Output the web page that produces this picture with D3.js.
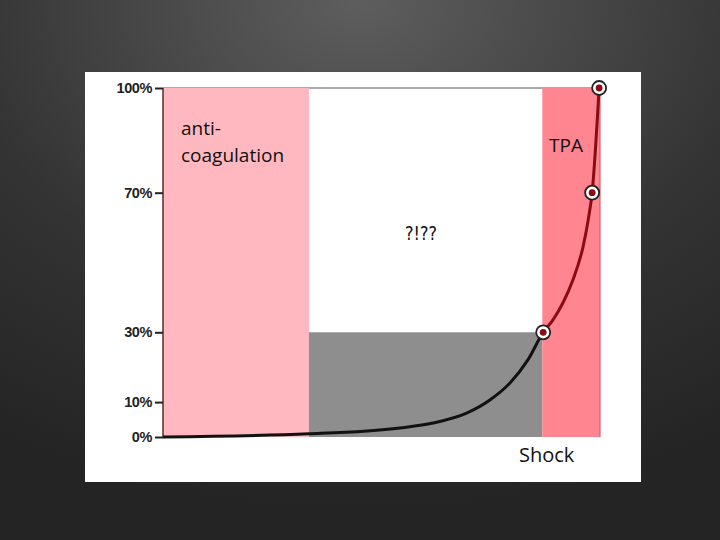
<!DOCTYPE html>
<html><head><meta charset="utf-8">
<script src="https://cdn.jsdelivr.net/npm/d3@7"></script>
<style>body{margin:0;background:#2b2b2b}svg{display:block}</style>
</head><body>
<script>
// ---- data ----
const yTicks = [0, 10, 30, 70, 100];
const tickLabels = ["0%", "10%", "30%", "70%", "100%"];
const zones = [
  {name: "anti-coagulation", x0: 0, x1: 33.4, y0: 0, y1: 100, fill: "#ffb8c0"},
  {name: "unknown", x0: 33.4, x1: 86.8, y0: 0, y1: 30, fill: "#8e8e8e"},
  {name: "TPA", x0: 86.8, x1: 100, y0: 0, y1: 100, fill: "#ff8590"}
];
const curveX = [0, 33.4, 54.2, 61.8, 69.6, 74.8, 79.4, 83.5, 87, 89.2, 91.5, 93.8, 96.1, 97.3, 98.2, 99.8];
const curveY = [0, 0.9, 2.6, 4.0, 6.9, 10.6, 15.5, 22.1, 30, 33.5, 38.4, 45, 54.4, 62.2, 70, 100];
const shockX = 87;
const markerX = [87, 98.2, 99.8];
const markerY = [30, 70, 100];

const W = 720, H = 540;
const svg = d3.select("body").append("svg").attr("width", W).attr("height", H);
const defs = svg.append("defs");
const rg = defs.append("radialGradient").attr("id", "bg").attr("cx", "50%").attr("cy", "0%").attr("r", "95%");
rg.append("stop").attr("offset", "0%").attr("stop-color", "#5e5e5e");
rg.append("stop").attr("offset", "60%").attr("stop-color", "#333");
rg.append("stop").attr("offset", "100%").attr("stop-color", "#242424");
svg.append("rect").attr("width", W).attr("height", H).attr("fill", "url(#bg)");

svg.append("rect").attr("x", 85).attr("y", 72).attr("width", 556).attr("height", 410).attr("fill", "#fff");

const x = d3.scaleLinear().domain([0, 100]).range([163, 600]);
const y = d3.scaleLinear().domain([0, 100]).range([437, 88]);

defs.append("clipPath").attr("id", "cl").append("rect")
  .attr("x", 0).attr("y", 0).attr("width", x(shockX)).attr("height", H);
defs.append("clipPath").attr("id", "cr").append("rect")
  .attr("x", x(shockX)).attr("y", 0).attr("width", W).attr("height", H);

// top line
svg.append("line").attr("x1", x(0)).attr("x2", x(100)).attr("y1", y(100)).attr("y2", y(100))
  .attr("stroke", "#555").attr("stroke-width", 1);

svg.selectAll("rect.zone").data(zones).enter().append("rect").attr("class", "zone")
  .attr("x", d => x(d.x0)).attr("width", d => x(d.x1) - x(d.x0))
  .attr("y", d => y(d.y1)).attr("height", d => y(d.y0) - y(d.y1))
  .attr("fill", d => d.fill);
svg.append("line").attr("x1", x(100)).attr("x2", x(100)).attr("y1", y(100)).attr("y2", y(0))
  .attr("stroke", "#d06070").attr("stroke-width", 1.2);

// y axis
const ax = svg.append("g").attr("transform", `translate(${x(0)},0)`)
  .call(d3.axisLeft(y).tickValues(yTicks).tickFormat((d, i) => tickLabels[i]).tickSize(8).tickPadding(3));
ax.select(".domain").attr("stroke", "#5a2a2a").attr("stroke-width", 1.5).attr("d", `M0,${y(100)}V${y(0)}`);
ax.selectAll(".tick line").attr("stroke", "#222").attr("stroke-width", 2);
ax.selectAll(".tick text").attr("fill", "#222").attr("font-family", "Liberation Sans, Arial, sans-serif")
  .attr("font-size", 14.5).attr("font-weight", "bold").attr("letter-spacing", -0.4);

const pts = curveX.map((v, i) => [v, curveY[i]]);
const line = d3.line().x(d => x(d[0])).y(d => y(d[1])).curve(d3.curveMonotoneX);
svg.append("path").datum(pts).attr("clip-path", "url(#cl)")
  .attr("d", line).attr("fill", "none").attr("stroke", "#111").attr("stroke-width", 3);
svg.append("path").datum(pts).attr("clip-path", "url(#cr)")
  .attr("d", line).attr("fill", "none").attr("stroke", "#8b0a14").attr("stroke-width", 3);

const mk = svg.selectAll("g.mk").data(markerX.map((v, i) => [v, markerY[i]])).enter().append("g")
  .attr("transform", d => `translate(${x(d[0])},${y(d[1])})`);
mk.append("circle").attr("r", 7).attr("fill", "#fff").attr("stroke", "#222").attr("stroke-width", 1.8);
mk.append("circle").attr("r", 3.4).attr("fill", "#8b0a14");

const font = "Open Sans, DejaVu Sans, sans-serif";
svg.append("text").attr("x", 181).attr("y", 135).attr("font-family", font).attr("font-size", 19).attr("fill", "#111").text("anti-");
svg.append("text").attr("x", 181).attr("y", 162).attr("font-family", font).attr("font-size", 19).attr("fill", "#111").text("coagulation");
svg.append("text").attr("x", 549).attr("y", 152).attr("font-family", font).attr("font-size", 19).attr("fill", "#111").attr("font-weight", 500).text("TPA");
svg.append("text").attr("x", 405).attr("y", 240).attr("font-family", "Liberation Sans Narrow, DejaVu Sans Condensed, sans-serif")
  .attr("font-size", 19).attr("fill", "#111").attr("textLength", 32).attr("lengthAdjust", "spacingAndGlyphs").text("?!??");
svg.append("text").attr("x", 519).attr("y", 462).attr("font-family", font).attr("font-size", 20).attr("fill", "#111").text("Shock");
</script>
</body></html>
